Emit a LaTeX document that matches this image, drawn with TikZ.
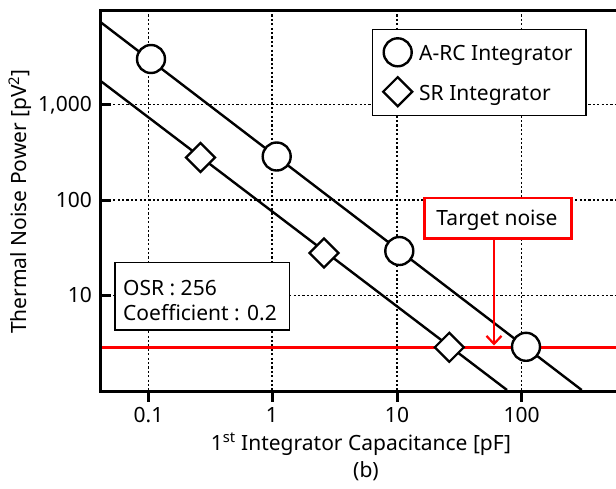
\documentclass[tikz,border=0pt]{standalone}
\usepackage{fontspec}
\setmainfont{Noto Sans}
\usetikzlibrary{arrows.meta,shapes.geometric}
\begin{document}
\begin{tikzpicture}[x=1pt,y=-1pt,
  gridline/.style={line width=1.1pt, dash pattern=on 2.2pt off 2.2pt},
  dataline/.style={line width=2.4pt},
  circmark/.style={circle, draw, fill=white, line width=2.4pt, minimum size=28pt, inner sep=0pt},
  diamark/.style={diamond, draw, fill=white, line width=2.2pt, minimum size=30pt, inner sep=0pt, aspect=1},
  lbl/.style={font=\fontsize{21}{24}\selectfont, inner sep=0pt},
  boxstyle/.style={draw, fill=white, line width=1.4pt}
]
\useasboundingbox (0,0) rectangle (616,488);
% grid
\foreach \gx in {148.5,272,397,521.7} \draw[gridline] (\gx,10) -- (\gx,391);
\foreach \gy in {104.3,200,295.7} \draw[gridline] (100,\gy) -- (616,\gy);
% red target line
\draw[red, line width=2.6pt] (100,347.3) -- (616,347.3);
% data lines
\begin{scope}
\clip (100,10) rectangle (616,391);
\coordinate (a1) at (100,21.7);
\coordinate (a2) at (581.7,390);
\coordinate (s1) at (100,80.5);
\coordinate (s2) at (507,390);
\draw[dataline] (a1) -- (a2);
\draw[dataline] (s1) -- (s2);
\end{scope}
% frame
\draw[line width=3pt] (616,10) -- (100,10) -- (100,391) -- (616,391);
% ticks
\foreach \gx in {148.5,272,397,521.7} \draw[line width=3pt] (\gx,391) -- (\gx,402);
\foreach \gy in {104.3,200,295.7} \draw[line width=3pt] (100,\gy) -- (111,\gy);
% tick labels
\node[lbl, anchor=base] (x1) at (148.5,422.7) {0.1};
\node[lbl, anchor=base] (x2) at (272,422.7) {1};
\node[lbl, anchor=base] (x3) at (397,422.7) {10};
\node[lbl, anchor=base] (x4) at (521.7,422.7) {100};
\node[lbl, anchor=base east] (y1) at (92,111.3) {1,000};
\node[lbl, anchor=base east] (y2) at (92,207) {100};
\node[lbl, anchor=base east] (y3) at (92,302.7) {10};
% axis labels
\node[lbl, anchor=base] (xl) at (361,450) {1\textsuperscript{st} Integrator Capacitance [pF]};
\node[lbl, anchor=base] (cap) at (366,477) {(b)};
\node[lbl, rotate=90, anchor=base] (yl) at (27,201.5) {Thermal Noise Power [pV\textsuperscript{2}]};
% markers
\node[circmark] (c1) at (151,59) {};
\node[circmark] (c2) at (276.7,156.5) {};
\node[circmark] (c3) at (399.3,251) {};
\node[circmark] (c4) at (526,346.8) {};
\node[diamark] (d1) at (200.5,157.5) {};
\node[diamark] (d2) at (324,253) {};
\node[diamark] (d3) at (449.3,347.3) {};
% legend
\draw[boxstyle] (372.7,29.3) rectangle (586,115.7);
\node[circmark] (lc) at (397.7,52.3) {};
\node[diamark] (ld) at (397.7,91.7) {};
\node[lbl, anchor=base west] (lt1) at (419,60) {A-RC Integrator};
\node[lbl, anchor=base west] (lt2) at (419,100) {SR Integrator};
% OSR box
\draw[boxstyle] (115,262.7) rectangle (289.3,330);
\node[lbl, anchor=base west] (o1) at (123,295) {OSR : 256};
\node[lbl, anchor=base west] (o2) at (123,320.5) {Coefficient : 0.2};
% target noise
\node[draw=red, fill=white, line width=2.4pt, minimum width=147pt, minimum height=40.6pt, inner sep=0pt, anchor=north west] (tn) at (423.3,196.7) {};
\node[lbl, anchor=base] (tnt) at (497,225) {Target noise};
\coordinate (tip) at (494,345.5);
\draw[red, line width=2.4pt, -{Straight Barb[length=8pt,width=15pt,line width=2.2pt]}] (tn.south -| tip) -- (tip);
\end{tikzpicture}
\end{document}
